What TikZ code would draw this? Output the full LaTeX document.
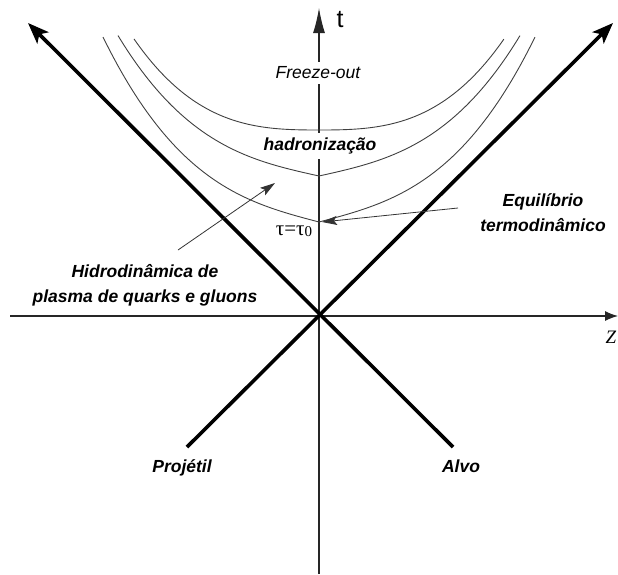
\documentclass[tikz,border=0pt]{standalone}
\usepackage{fontspec}
\setmainfont{Liberation Sans}
\newfontfamily\serifgr{Liberation Serif}
\usetikzlibrary{arrows.meta}
\begin{document}
\begin{tikzpicture}[x=1pt,y=-1pt,
  curve/.style={line width=0.9pt, draw=black!75, line join=round},
  axisline/.style={line width=1.1pt, draw=black!85},
  boldline/.style={line width=3.6pt, -{Stealth[length=21pt,width=16pt,inset=5pt]}},
  pointer/.style={line width=0.8pt, draw=black!80, -{Stealth[length=15pt,width=9pt,inset=3pt]}},
  lbl/.style={font=\fontsize{17.5}{25}\selectfont\bfseries\itshape, align=center, inner sep=1pt},
  gaplbl/.style={fill=white, inner xsep=2pt, inner ysep=5pt}]
\useasboundingbox (0,0) rectangle (618,574);

% coordinates
\coordinate (O) at (319,316);
\coordinate (ttop) at (319,8);
\coordinate (tbot) at (319,574);
\coordinate (zleft) at (10,316);
\coordinate (zright) at (618,316);
\coordinate (projtail) at (187,447);
\coordinate (projtip) at (613,23);
\coordinate (alvotail) at (453,447);
\coordinate (alvotip) at (28,23);
\coordinate (hidtail) at (178,250);
\coordinate (hidtip) at (275,183);
\coordinate (eqtail) at (458,208);
\coordinate (eqtip) at (322,222);

% axes
\draw[axisline, -{Latex[length=25pt,width=12pt]}] (tbot) -- (ttop);
\draw[axisline, -{Latex[length=13pt,width=10pt]}] (zleft) -- (zright);

% hyperbola-like curves (z in units of 100 px)
\draw[curve] plot[domain=-1.85:1.85, samples=121]
  ({319+100*\x}, {130 - 2*\x*\x - 13.3*abs(\x)^3});
\draw[curve] plot[domain=-2.01:2.01, samples=121]
  ({319+100*\x}, {176 - 22.2*abs(\x) - 11.8*abs(\x)^3});
\draw[curve] plot[domain=-2.16:2.16, samples=121]
  ({319+100*\x}, {222 - 26.3*abs(\x) - 12.72*abs(\x)^3});

% light cone
\draw[boldline] (projtail) -- (projtip);
\draw[boldline] (alvotail) -- (alvotip);

% pointers
\draw[pointer] (hidtail) -- (hidtip);
\draw[pointer] (eqtail) -- (eqtip);

% labels
\node[gaplbl, font=\fontsize{17.5}{25}\selectfont\itshape] (freeze) at (318,73) {Freeze-out};
\node[lbl, gaplbl] (hadr) at (320,146) {hadronização};
\node (tlab) at (340,20) {\fontsize{25}{25}\selectfont t};
\node (zlab) at (611,337) {\serifgr\itshape\fontsize{19}{19}\selectfont Z};
\node[inner sep=1pt] (tau) at (294,231) {\serifgr\fontsize{21}{21}\selectfont τ=τ\raisebox{-1.5pt}{\fontsize{15}{15}\selectfont 0}};
\node[lbl] (equil) at (543,213) {Equilíbrio\\termodinâmico};
\node[lbl] (hidro) at (145,285) {Hidrodinâmica de\\plasma de quarks e gluons};
\node[lbl] (proj) at (182,468) {Projétil};
\node[lbl] (alvo) at (461,466) {Alvo};
\end{tikzpicture}
\end{document}
